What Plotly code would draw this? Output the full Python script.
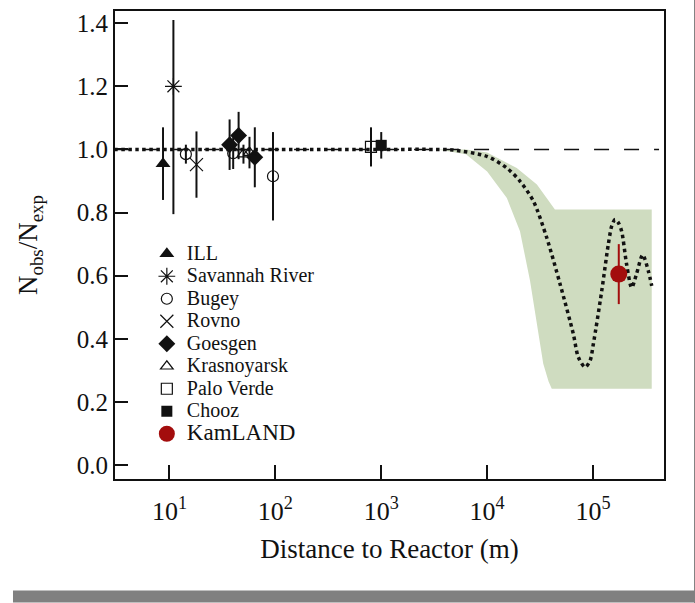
import plotly.graph_objects as go

# ---------------- data ----------------
ill_x = [8.7];   ill_y = [0.955];  ill_e = [0.115]
sr_x = [10.9];   sr_y = [1.20];    sr_ep = [0.21];  sr_em = [0.405]
bugey_x = [14.3, 40, 95];  bugey_y = [0.985, 0.988, 0.915];  bugey_e = [0.03, 0.05, 0.14]
rovno_x = [18];  rovno_y = [0.952];  rovno_e = [0.105]
goes_x = [37, 45, 64];  goes_y = [1.015, 1.044, 0.975];  goes_e = [0.08, 0.075, 0.095]
kras_x = [50, 57];  kras_y = [0.985, 0.99];  kras_e = [0.03, 0.05]
pv_x = [800];    pv_y = [1.008];   pv_e = [0.062]
chooz_x = [1000]; chooz_y = [1.013]; chooz_e = [0.042]
kam_x = [175000]; kam_y = [0.605]; kam_e = [0.095]

# oscillation expectation (dotted curve)
curve_x = [3, 100, 1000, 3162, 4786, 9930, 15350, 20460, 27350, 36560, 48870,
           65160, 72610, 84140, 93760, 100700, 120800, 139300, 150000, 161400,
           173400, 186200, 207500, 231700, 257000, 294400, 332700, 358100]
curve_y = [1.0, 1.0, 1.0, 1.0, 0.998, 0.978, 0.941, 0.899, 0.836, 0.72, 0.573,
           0.415, 0.342, 0.31, 0.331, 0.384, 0.552, 0.699, 0.757, 0.778,
           0.768, 0.741, 0.636, 0.562, 0.605, 0.666, 0.615, 0.568]

# allowed band (upper edge left->right, then lower edge right->left)
band_x = [3400, 6310, 10000, 19050, 29510, 39260, 43650, 358100,
          358100, 40740, 38020, 33880, 29510, 25410, 20420, 15350, 10000, 6310, 3400]
band_y = [1.0, 1.0, 0.99, 0.941, 0.889, 0.831, 0.81, 0.81,
          0.242, 0.242, 0.265, 0.321, 0.447, 0.584, 0.741, 0.846, 0.93, 0.985, 1.0]

ref_x = [3, 420000]
ref_y = [1.0, 1.0]

tick_vals = [10, 100, 1000, 10000, 100000]
tick_text = ["10<sup>1</sup>", "10<sup>2</sup>", "10<sup>3</sup>", "10<sup>4</sup>", "10<sup>5</sup>"]
ytick_vals = [0.0, 0.2, 0.4, 0.6, 0.8, 1.0, 1.2, 1.4]

FONT = "Liberation Serif"
BLACK = "#111111"
RED = "#a30d0d"

def lname(s, size=20):
    return f'<span style="font-size:{size}px">{s}</span>'

def err(arr, minus=None, color=BLACK):
    d = dict(type="data", array=arr, width=0, thickness=2, color=color, visible=True)
    if minus is not None:
        d.update(symmetric=False, arrayminus=minus)
    return d

fig = go.Figure()

fig.add_trace(go.Scatter(x=band_x, y=band_y, mode="lines", fill="toself",
                         fillcolor="rgb(207,220,192)", line=dict(width=0),
                         showlegend=False, hoverinfo="skip"))
fig.add_trace(go.Scatter(x=ref_x, y=ref_y, mode="lines",
                         line=dict(color=BLACK, width=1.5, dash="longdash"),
                         showlegend=False, hoverinfo="skip"))
fig.add_trace(go.Scatter(x=curve_x, y=curve_y, mode="lines",
                         line=dict(color=BLACK, width=3.5, dash="dot", shape="spline", smoothing=0.8),
                         showlegend=False, hoverinfo="skip"))

fig.add_trace(go.Scatter(x=ill_x, y=ill_y, name=lname("ILL"), mode="markers",
                         marker=dict(symbol="triangle-up", size=13, color=BLACK),
                         error_y=err(ill_e)))
fig.add_trace(go.Scatter(x=sr_x, y=sr_y, name=lname("Savannah River"), mode="markers",
                         marker=dict(symbol="asterisk-open", size=14, color=BLACK, line=dict(width=1.2, color=BLACK)),
                         error_y=err(sr_ep, sr_em)))
fig.add_trace(go.Scatter(x=bugey_x, y=bugey_y, name=lname("Bugey"), mode="markers",
                         marker=dict(symbol="circle-open", size=11, color=BLACK, line=dict(width=1.2, color=BLACK)),
                         error_y=err(bugey_e)))
fig.add_trace(go.Scatter(x=rovno_x, y=rovno_y, name=lname("Rovno"), mode="markers",
                         marker=dict(symbol="x-thin-open", size=13, color=BLACK, line=dict(width=1.2, color=BLACK)),
                         error_y=err(rovno_e)))
fig.add_trace(go.Scatter(x=goes_x, y=goes_y, name=lname("Goesgen"), mode="markers",
                         marker=dict(symbol="diamond", size=13, color=BLACK),
                         error_y=err(goes_e)))
fig.add_trace(go.Scatter(x=kras_x, y=kras_y, name=lname("Krasnoyarsk"), mode="markers",
                         marker=dict(symbol="triangle-up-open", size=11, color=BLACK, line=dict(width=1.2, color=BLACK)),
                         error_y=err(kras_e)))
fig.add_trace(go.Scatter(x=pv_x, y=pv_y, name=lname("Palo Verde"), mode="markers",
                         marker=dict(symbol="square-open", size=11, color=BLACK, line=dict(width=1.2, color=BLACK)),
                         error_y=err(pv_e)))
fig.add_trace(go.Scatter(x=chooz_x, y=chooz_y, name=lname("Chooz"), mode="markers",
                         marker=dict(symbol="square", size=11, color=BLACK),
                         error_y=err(chooz_e)))
fig.add_trace(go.Scatter(x=kam_x, y=kam_y, name=lname("KamLAND", 23), mode="markers",
                         marker=dict(symbol="circle", size=17, color=RED),
                         error_y=err(kam_e, color=RED)))

fig.update_xaxes(type="log", range=[0.486, 5.67], tickvals=tick_vals, ticktext=tick_text,
                 ticks="inside", ticklen=14, tickwidth=1.5, tickcolor=BLACK,
                 ticklabelstandoff=8,
                 showline=True, linewidth=2, linecolor=BLACK, mirror=True,
                 showgrid=False, zeroline=False,
                 tickfont=dict(family=FONT, size=26, color=BLACK),
                 title=dict(text="Distance to Reactor (m)", standoff=14,
                            font=dict(family=FONT, size=27, color=BLACK)))
fig.update_yaxes(range=[-0.044, 1.4385], tickvals=ytick_vals, tickformat=".1f",
                 ticks="inside", ticklen=13, tickwidth=1.5, tickcolor=BLACK,
                 showline=True, linewidth=2, linecolor=BLACK, mirror=True,
                 showgrid=False, zeroline=False,
                 tickfont=dict(family=FONT, size=25, color=BLACK),
                 title=dict(text="N<sub>obs</sub>/N<sub>exp</sub>", standoff=31,
                            font=dict(family=FONT, size=27, color=BLACK)))

fig.update_layout(
    width=695, height=603,
    margin=dict(l=115, r=31, t=9, b=124),
    paper_bgcolor="white", plot_bgcolor="white",
    font=dict(family=FONT, color=BLACK),
    legend=dict(x=0.058, y=0.516, xanchor="left", yanchor="top",
                bgcolor="rgba(0,0,0,0)", borderwidth=0,
                font=dict(family=FONT, size=15, color=BLACK),
                tracegroupgap=0),
    shapes=[
        dict(type="rect", xref="paper", yref="paper", x0=-0.1858, x1=1.06,
             y0=-0.2638, y1=-0.2383, fillcolor="#808080", line=dict(width=0), layer="above"),
        dict(type="rect", xref="paper", yref="paper", x0=1.0547, x1=1.06,
             y0=-0.27, y1=1.03, fillcolor="#808080", line=dict(width=0), layer="above"),
    ],
)

fig.write_html("out.html")
